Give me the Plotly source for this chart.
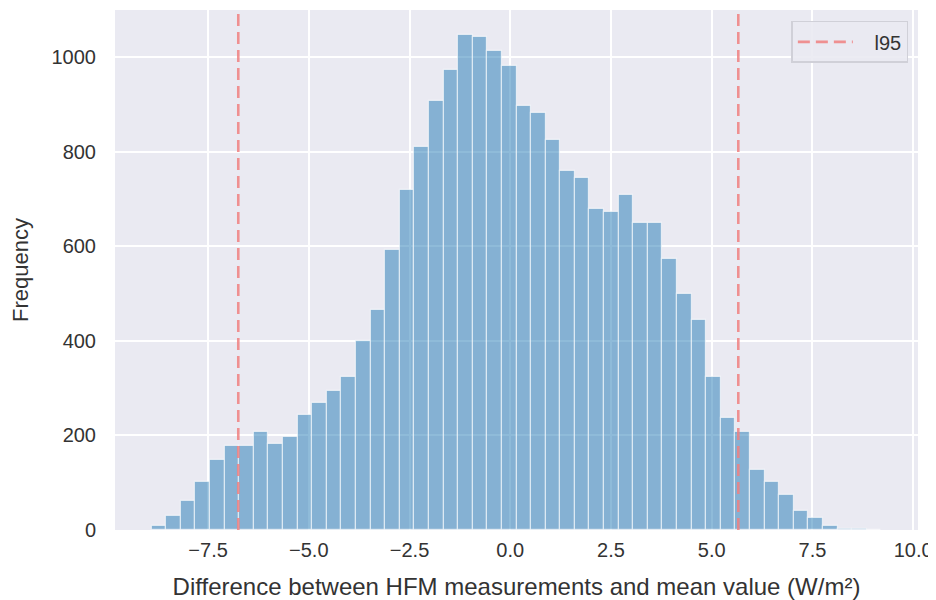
import numpy as np
import plotly.graph_objects as go

# histogram of differences, 50 bins
bin_start = -8.90
bin_width = 0.3622
counts = [9, 30, 61, 101, 147, 177, 177, 207, 182, 197,
          243, 268, 293, 323, 400, 466, 592, 719, 810, 906,
          972, 1047, 1043, 1012, 982, 896, 882, 825, 759, 745,
          678, 673, 709, 648, 648, 572, 500, 445, 323, 237,
          207, 126, 102, 75, 40, 25, 9, 3, 2, 1]
l95_bounds = [-6.75, 5.66]
x_ticks = [-7.5, -5.0, -2.5, 0.0, 2.5, 5.0, 7.5, 10.0]
y_ticks = [0, 200, 400, 600, 800, 1000]

centers = bin_start + bin_width*(np.arange(len(counts)) + 0.5)
y_top = max(counts)*1.05

font = 'Liberation Sans, Arial, sans-serif'
fig = go.Figure()
fig.add_trace(go.Bar(x=centers, y=counts, width=bin_width,
                     marker=dict(color='rgba(31,119,180,0.5)',
                                 line=dict(color='rgba(255,255,255,0.6)', width=1.2)),
                     showlegend=False))
for i, v in enumerate(l95_bounds):
    # nbsp padding puts a gap between the legend line and its label
    fig.add_trace(go.Scatter(x=[v, v], y=[0, y_top], mode='lines', name='\u00a0\u00a0\u00a0l95',
                             line=dict(color='rgba(240,128,128,0.85)', width=2.6, dash='12px,6px'),
                             showlegend=(i == 0)))

# page body has an 8px margin, so the figure is a bit smaller than the window
fig.update_layout(width=928, height=592,
                  margin=dict(l=107, r=18, t=2, b=70),
                  paper_bgcolor='white', plot_bgcolor='#EAEAF2',
                  font=dict(family=font, size=20, color='#333333'),
                  bargap=0,
                  legend=dict(x=0.988, y=0.979, xanchor='right', yanchor='top',
                              itemwidth=55,
                              bgcolor='rgba(234,234,242,0.9)', bordercolor='#d0d0d8', borderwidth=1.5,
                              font=dict(size=20, color='#333333')))
fig.update_xaxes(range=[-9.81, 10.12], tickvals=x_ticks, tickformat='.1f',
                 gridcolor='white', gridwidth=1.5, zeroline=False, showline=False,
                 ticks='', ticklabelstandoff=6, automargin=False,
                 title=dict(text='Difference between HFM measurements and mean value (W/m²)',
                            font=dict(size=24), standoff=22))
fig.update_yaxes(range=[0, y_top], tickvals=y_ticks,
                 gridcolor='white', gridwidth=1.5, zeroline=False, showline=False,
                 ticks='', ticklabelstandoff=18, automargin=False,
                 title=dict(text='Frequency', font=dict(size=22), standoff=19))
fig.write_html('out.html')
